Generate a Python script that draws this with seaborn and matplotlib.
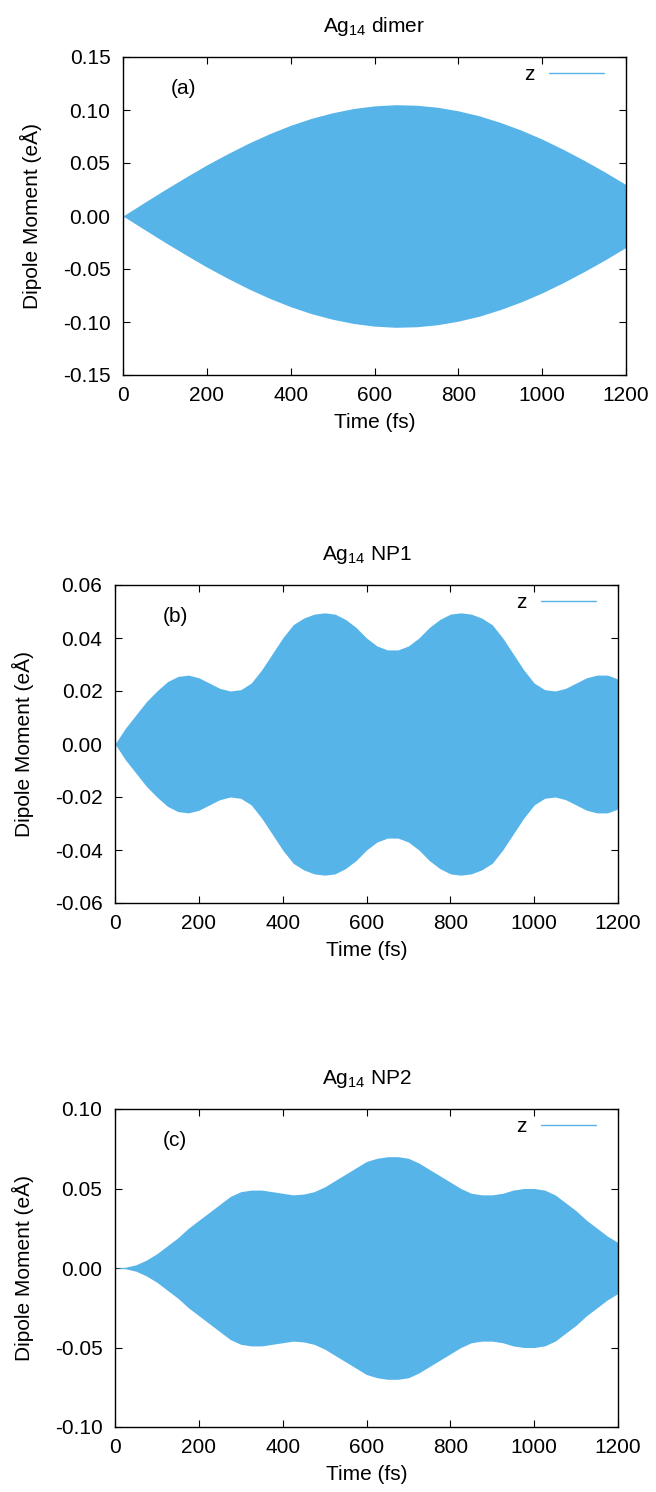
import numpy as np
import pandas as pd
import matplotlib
matplotlib.use('Agg')
import matplotlib.pyplot as plt
from matplotlib.lines import Line2D
from matplotlib.ticker import FormatStrFormatter, MultipleLocator
import seaborn as sns

# Envelope of the z dipole moment (eÅ)
time_a = [0, 50, 100, 150, 200, 250, 300, 350, 400, 450, 500, 550, 600,
          650, 700, 750, 800, 850, 900, 950, 1000, 1050, 1100, 1150, 1200]
dimer_amp = [0.0, 0.0125, 0.0248, 0.0367, 0.0482, 0.0588, 0.0688, 0.0777,
             0.0856, 0.0922, 0.0974, 0.1014, 0.1039, 0.105, 0.1045, 0.1026,
             0.0992, 0.0945, 0.0883, 0.081, 0.0725, 0.0629, 0.0525, 0.0414,
             0.0296]

time_bc = list(range(0, 1201, 25))
np1_amp = [0.0, 0.006, 0.011, 0.016, 0.020, 0.0235, 0.0255, 0.026, 0.025,
           0.023, 0.021, 0.020, 0.0205, 0.023, 0.028, 0.034, 0.040, 0.045,
           0.0475, 0.049, 0.0495, 0.049, 0.047, 0.044, 0.040, 0.037, 0.0355,
           0.0355, 0.037, 0.040, 0.044, 0.047, 0.049, 0.0495, 0.049, 0.0475,
           0.045, 0.040, 0.034, 0.028, 0.023, 0.0205, 0.020, 0.021, 0.023,
           0.025, 0.026, 0.026, 0.0245]
np2_amp = [0.0, 0.0005, 0.002, 0.005, 0.009, 0.014, 0.019, 0.025, 0.030,
           0.035, 0.040, 0.045, 0.048, 0.049, 0.049, 0.048, 0.047, 0.046,
           0.0465, 0.048, 0.051, 0.055, 0.059, 0.063, 0.067, 0.069, 0.070,
           0.070, 0.069, 0.066, 0.062, 0.058, 0.054, 0.050, 0.047, 0.046,
           0.046, 0.047, 0.049, 0.050, 0.050, 0.049, 0.046, 0.041, 0.036,
           0.030, 0.025, 0.020, 0.016]

titles = ['Ag$_{14}$ dimer', 'Ag$_{14}$ NP1', 'Ag$_{14}$ NP2']
panel_tags = ['(a)', '(b)', '(c)']
y_limits = [(-0.15, 0.15), (-0.06, 0.06), (-0.10, 0.10)]
y_steps = [0.05, 0.02, 0.05]

# Style
sns.set_style('ticks')
plt.rcParams['font.family'] = ['Liberation Sans', 'DejaVu Sans']
plt.rcParams['mathtext.default'] = 'regular'
plt.rcParams['axes.unicode_minus'] = False
for key in ['text.color', 'axes.labelcolor', 'xtick.color', 'ytick.color',
            'axes.edgecolor']:
    plt.rcParams[key] = 'black'
color = '#56b4e9'
fs = 15

W, H = 656, 1492
fig = plt.figure(figsize=(W / 100, H / 100), dpi=100)
# axes boxes in pixels: left, right, top, bottom
boxes = [(123, 626, 57, 375), (115, 618, 585, 903), (115, 618, 1109, 1427)]

series = [(time_a, dimer_amp), (time_bc, np1_amp), (time_bc, np2_amp)]

for i, (t, amp) in enumerate(series):
    l, r, top, bot = boxes[i]
    ax = fig.add_axes([l / W, 1 - bot / H, (r - l) / W, (bot - top) / H])
    df = pd.DataFrame({'time': t, 'amp': amp})
    ax.fill_between(df['time'], -df['amp'], df['amp'], color=color,
                    linewidth=0)
    ax.set_xlim(0, 1200)
    ax.set_ylim(*y_limits[i])
    ax.xaxis.set_major_locator(MultipleLocator(200))
    ax.yaxis.set_major_locator(MultipleLocator(y_steps[i]))
    ax.yaxis.set_major_formatter(FormatStrFormatter('%.2f'))
    ax.tick_params(direction='in', top=True, right=True, length=5,
                   width=0.8, labelsize=fs)
    ax.tick_params(axis='x', pad=8)
    ax.tick_params(axis='y', pad=9)
    for s in ax.spines.values():
        s.set_linewidth(1.0)
    ax.set_title(titles[i], fontsize=fs, pad=18)
    ax.set_xlabel('Time (fs)', fontsize=fs, labelpad=6)
    ax.set_ylabel('Dipole Moment (eÅ)', fontsize=fs, labelpad=15)
    ax.text(0.12, 0.90, panel_tags[i], transform=ax.transAxes, fontsize=fs,
            ha='center', va='center')
    handle = Line2D([], [], color=color, linewidth=1.0)
    ax.legend([handle], ['z'], loc='upper right', frameon=False,
              fontsize=fs, markerfirst=False, handlelength=2.6,
              handletextpad=0.7, borderaxespad=0.0,
              bbox_to_anchor=(0.972, 1.0))

fig.savefig('out.png', dpi=100)
